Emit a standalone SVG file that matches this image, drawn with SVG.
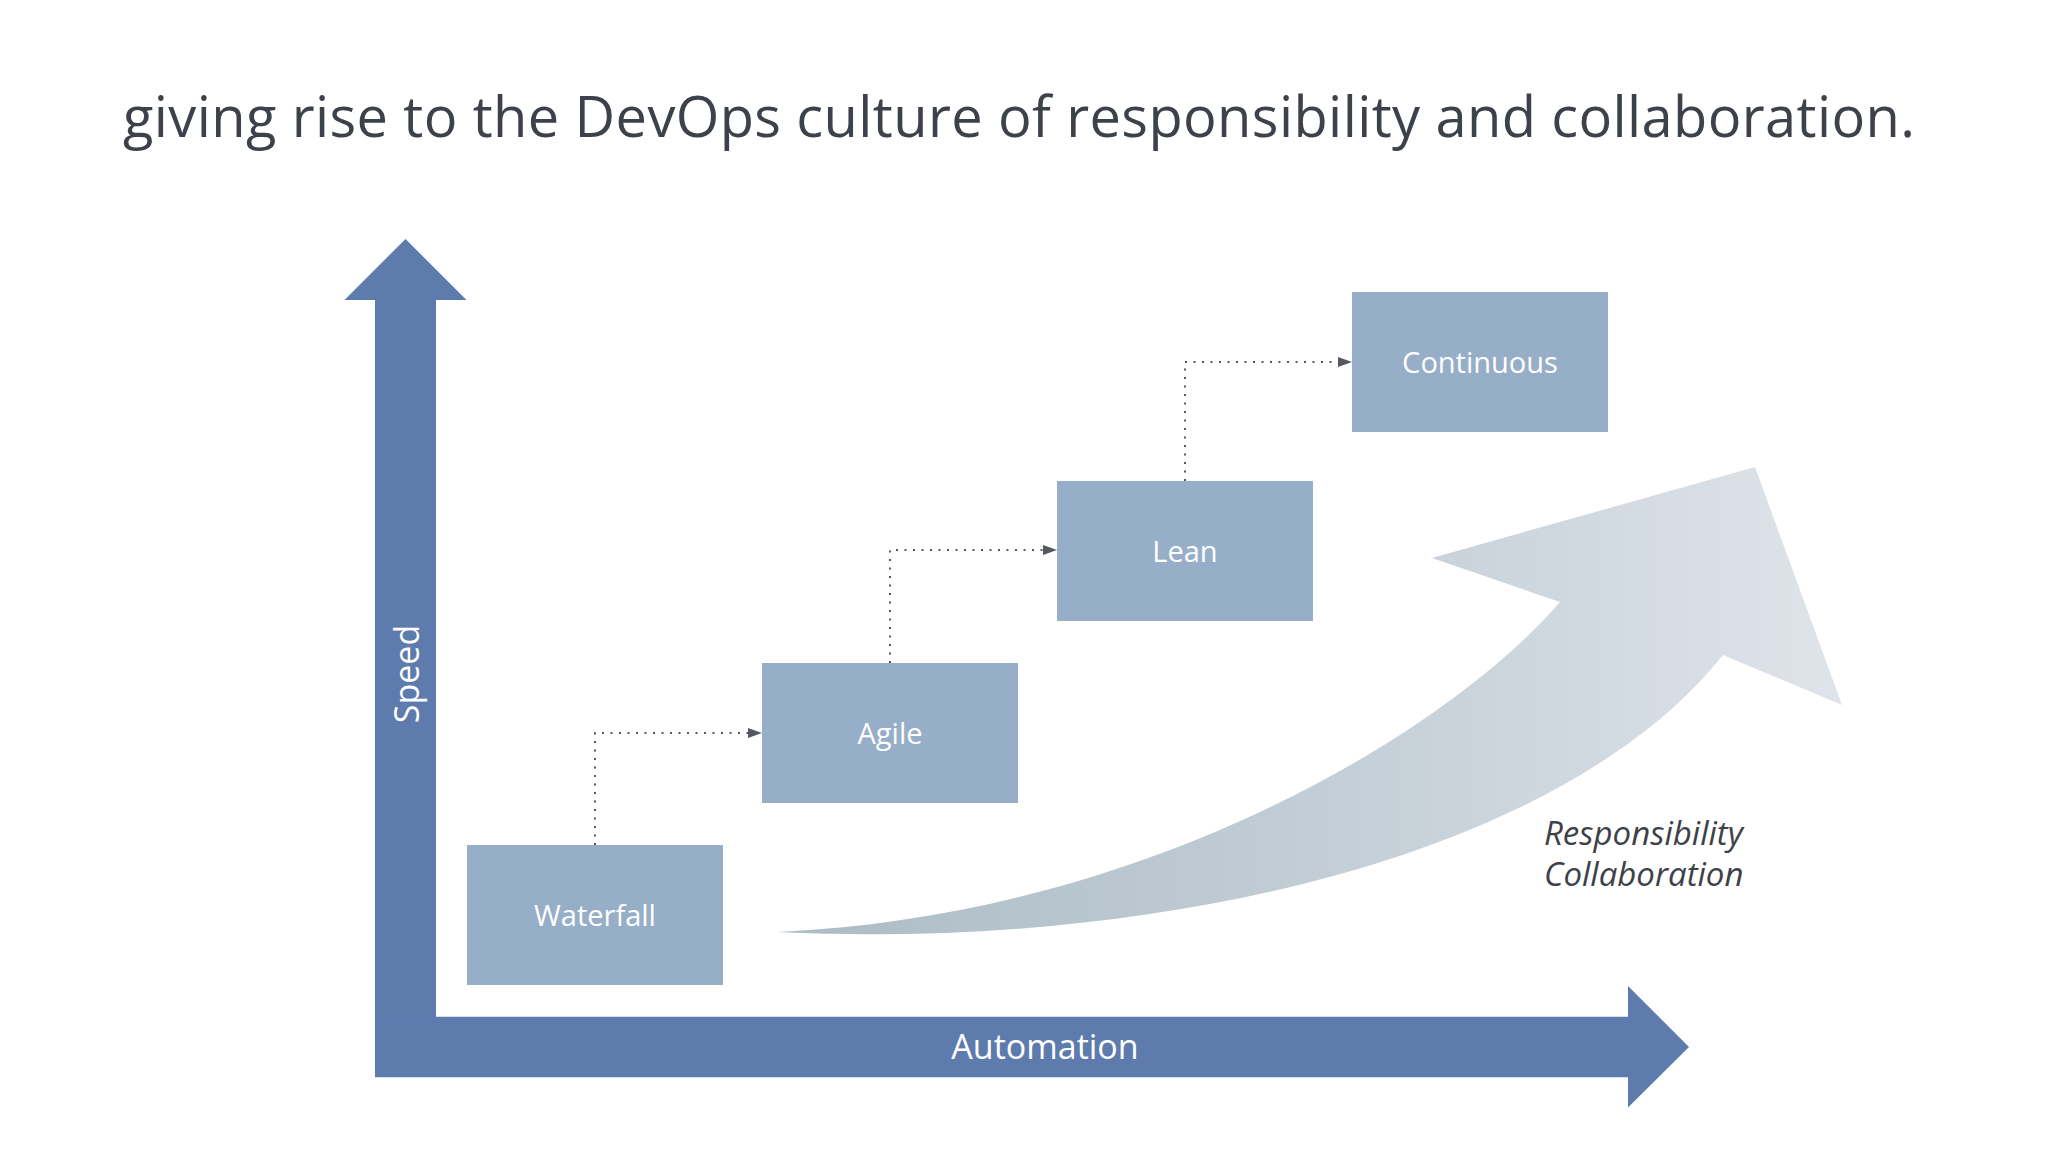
<svg xmlns="http://www.w3.org/2000/svg" width="2048" height="1152" viewBox="0 0 2048 1152">
  <defs>
    <style>
      .title { font-family: "Open Sans", "Liberation Sans", sans-serif; font-size: 56px; fill: #3d4149; }
      .axis { fill: #5e7bae; }
      .axislbl { font-family: "Open Sans", "Liberation Sans", sans-serif; font-size: 34px; fill: #ffffff; }
      .box { fill: #97aec8; }
      .boxlbl { font-family: "Open Sans", "Liberation Sans", sans-serif; font-size: 29px; fill: #ffffff; text-anchor: middle; }
      .conn { fill: none; stroke: #55585e; stroke-width: 2; stroke-dasharray: 2 6.5; }
      .note { font-family: "Open Sans", "Liberation Sans", sans-serif; font-size: 33px; font-style: italic; fill: #3d4149; }
    </style>
    <marker id="ah" viewBox="0 0 14 10" refX="14" refY="5" markerWidth="14" markerHeight="10" markerUnits="userSpaceOnUse" orient="auto">
      <path d="M0,0 L14,5 L0,10 Z" fill="#55585e"/>
    </marker>
    <linearGradient id="bigArrow" x1="778" y1="0" x2="1842" y2="0" gradientUnits="userSpaceOnUse">
      <stop offset="0" stop-color="#abbcc5"/>
      <stop offset="0.5" stop-color="#c2cdd5"/>
      <stop offset="1" stop-color="#dfe4ea"/>
    </linearGradient>
  </defs>
  <rect width="2048" height="1152" fill="#ffffff"/>

  <text class="title" x="123" y="137" textLength="1792" lengthAdjust="spacing">giving rise to the DevOps culture of responsibility and collaboration.</text>

  <g id="speed-axis">
    <polygon class="axis" points="405.5,239 466.5,300 436,300 436,1077 375,1077 375,300 344.5,300"/>
    <text class="axislbl" transform="translate(419,674) rotate(-90)" text-anchor="middle">Speed</text>
  </g>

  <g id="automation-axis">
    <polygon class="axis" points="375,1016.7 1628,1016.7 1628,986 1689,1047 1628,1107.5 1628,1077.3 375,1077.3"/>
    <text class="axislbl" x="1045" y="1059" text-anchor="middle">Automation</text>
  </g>

  <g id="growth-arrow">
    <path d="M778,932 C1150,915 1450,730 1560,602 L1432,558 L1755,467 L1842,705 L1723,655 C1560,860 1150,950 778,932 Z" fill="url(#bigArrow)"/>
    <text class="note" x="1544" y="845">Responsibility</text>
    <text class="note" x="1544" y="886">Collaboration</text>
  </g>

  <g id="waterfall">
    <rect class="box" x="467" y="845" width="256" height="140"/>
    <text class="boxlbl" x="595" y="926">Waterfall</text>
  </g>
  <g id="agile">
    <rect class="box" x="762" y="663" width="256" height="140"/>
    <text class="boxlbl" x="890" y="744">Agile</text>
  </g>
  <g id="lean">
    <rect class="box" x="1057" y="481" width="256" height="140"/>
    <text class="boxlbl" x="1185" y="562">Lean</text>
  </g>
  <g id="continuous">
    <rect class="box" x="1352" y="292" width="256" height="140"/>
    <text class="boxlbl" x="1480" y="373">Continuous</text>
  </g>

  <g id="connectors">
    <path class="conn" d="M595,845 L595,733 L762,733" marker-end="url(#ah)"/>
    <path class="conn" d="M890,663 L890,550 L1057,550" marker-end="url(#ah)"/>
    <path class="conn" d="M1185,481 L1185,362 L1352,362" marker-end="url(#ah)"/>
  </g>
</svg>
